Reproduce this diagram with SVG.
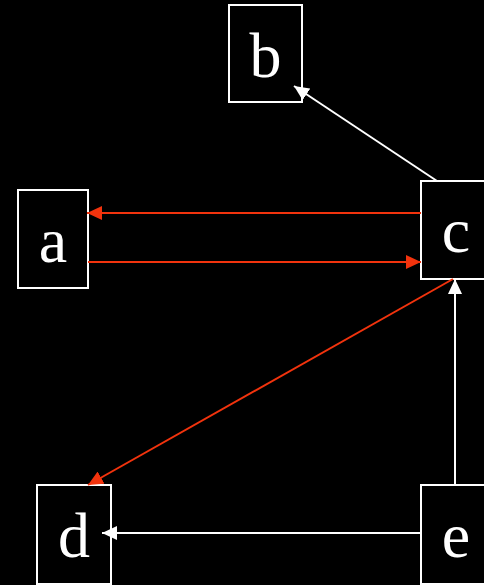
<svg xmlns="http://www.w3.org/2000/svg" width="484" height="585" viewBox="0 0 484 585">
<defs>
<style>
.box{fill:#000;stroke:#fff;stroke-width:2}
.lbl{font-family:"Liberation Serif","Times New Roman",serif;font-size:64px;fill:#fff;text-anchor:middle}
.w{stroke:#fff;stroke-width:2;fill:none}
.r{stroke:#f2330d;stroke-width:2;fill:none}
</style>
<marker id="aw" markerUnits="userSpaceOnUse" markerWidth="16" markerHeight="14" refX="15" refY="7" orient="auto"><path d="M0,0 L15,7 L0,14 Z" fill="#fff"/></marker>
<marker id="ar" markerUnits="userSpaceOnUse" markerWidth="16" markerHeight="14" refX="15" refY="7" orient="auto"><path d="M0,0 L15,7 L0,14 Z" fill="#f2330d"/></marker>
</defs>
<rect width="484" height="585" fill="#000"/>
<g id="b"><rect class="box" x="229" y="5" width="73" height="97"/><text class="lbl" x="265.5" y="77">b</text></g>
<g id="a"><rect class="box" x="18" y="190" width="70" height="98"/><text class="lbl" x="53" y="262">a</text></g>
<g id="c"><rect class="box" x="421" y="181" width="72" height="98"/><text class="lbl" x="456" y="252">c</text></g>
<g id="d"><rect class="box" x="37" y="485" width="74" height="99"/><text class="lbl" x="74" y="557">d</text></g>
<g id="e"><rect class="box" x="421" y="485" width="72" height="99"/><text class="lbl" x="456" y="557">e</text></g>
<g id="connectors">
<line class="w" x1="437" y1="181" x2="294" y2="86" marker-end="url(#aw)"/>
<line class="r" x1="421" y1="213" x2="87" y2="213" marker-end="url(#ar)"/>
<line class="r" x1="88" y1="262" x2="421" y2="262" marker-end="url(#ar)"/>
<line class="r" x1="453" y1="279" x2="88" y2="485" marker-end="url(#ar)"/>
<line class="w" x1="455" y1="485" x2="455" y2="279" marker-end="url(#aw)"/>
<line class="w" x1="421" y1="533" x2="102" y2="533" marker-end="url(#aw)"/>
</g>
</svg>
